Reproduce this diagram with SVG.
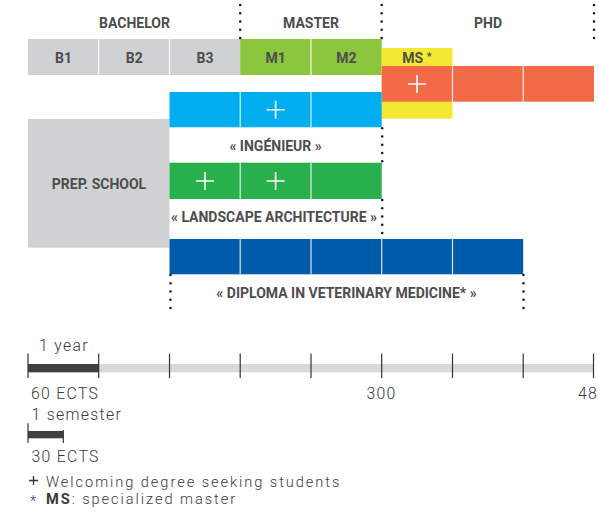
<svg xmlns="http://www.w3.org/2000/svg" width="599" height="516" viewBox="0 0 599 516">
<defs>
<style>
.hd{font-family:Roboto,"Liberation Sans",sans-serif;font-weight:700;font-size:14px;fill:#4d4d4d;text-anchor:middle}
.lb{font-family:Roboto,"Liberation Sans",sans-serif;font-weight:700;font-size:14px;fill:#4d4d4d;text-anchor:middle}
.lt{font-family:Roboto,"Liberation Sans",sans-serif;font-weight:300;font-size:15.8px;fill:#3a3a3a;letter-spacing:1.3px}
.lg{font-family:Roboto,"Liberation Sans",sans-serif;font-weight:300;font-size:14.6px;fill:#3a3a3a;letter-spacing:1.95px}
.sep{stroke:#ffffff;stroke-width:1.2;stroke-opacity:0.85}
.plus{stroke:#ffffff;stroke-width:1.6;fill:none}
.dot{stroke:#1a1a1a;stroke-width:2.6;stroke-linecap:round;stroke-dasharray:0 8.25;fill:none}
.tick{stroke:#333;stroke-width:1.2}
</style>
</defs>
<rect width="599" height="516" fill="#ffffff"/>

<g id="headers">
<text class="hd" x="134.5" y="27.5">BACHELOR</text>
<text class="hd" x="311" y="27.5">MASTER</text>
<text class="hd" x="488" y="27.5">PHD</text>
</g>

<g id="bachelor">
<rect x="28" y="39" width="212.2" height="36" fill="#d0d1d3"/>
<line class="sep" x1="98.7" y1="39" x2="98.7" y2="75"/>
<line class="sep" x1="169.5" y1="39" x2="169.5" y2="75"/>
<text class="lb" x="63.5" y="63.3">B1</text>
<text class="lb" x="134.2" y="63.3">B2</text>
<text class="lb" x="205" y="63.3">B3</text>
</g>

<g id="master">
<rect x="240.2" y="39" width="141.5" height="36" fill="#8cc63f"/>
<line class="sep" x1="311" y1="39" x2="311" y2="75"/>
<text class="lb" x="275.6" y="63.3">M1</text>
<text class="lb" x="346.3" y="63.3">M2</text>
</g>

<g id="ms">
<rect x="381.7" y="48" width="70.8" height="70.7" fill="#f3e933"/>
<text class="lb" x="417" y="63.3">MS <tspan font-size="11" dy="-3">*</tspan></text>
</g>

<g id="phd">
<rect x="381.7" y="66" width="212.3" height="35.7" fill="#f26a48"/>
<line class="sep" x1="452.5" y1="66" x2="452.5" y2="101.7"/>
<line class="sep" x1="523.2" y1="66" x2="523.2" y2="101.7"/>
<path class="plus" d="M408 84H426M417 75V93"/>
</g>

<g id="prep-school">
<rect x="28" y="119" width="141.5" height="128.7" fill="#d0d1d3"/>
<text class="lb" x="99" y="189.2">PREP. SCHOOL</text>
</g>

<g id="ingenieur">
<rect x="169.5" y="92" width="212.2" height="35.3" fill="#00aeef"/>
<line class="sep" x1="240.2" y1="92" x2="240.2" y2="127.3"/>
<line class="sep" x1="311" y1="92" x2="311" y2="127.3"/>
<path class="plus" d="M266.6 109.7H284.6M275.6 100.7V118.7"/>
<text class="lb" x="275.6" y="151">« INGÉNIEUR »</text>
</g>

<g id="landscape">
<rect x="169.5" y="162.7" width="212.2" height="36.3" fill="#27b04b"/>
<line class="sep" x1="240.2" y1="162.7" x2="240.2" y2="199"/>
<line class="sep" x1="311" y1="162.7" x2="311" y2="199"/>
<path class="plus" d="M196 181H214M205 172V190"/>
<path class="plus" d="M266.6 181H284.6M275.6 172V190"/>
<text class="lb" x="274" y="221.8">« LANDSCAPE ARCHITECTURE »</text>
</g>

<g id="veterinary">
<rect x="169.5" y="239" width="353.7" height="35.3" fill="#005baa"/>
<line class="sep" x1="240.2" y1="239" x2="240.2" y2="274.3"/>
<line class="sep" x1="311" y1="239" x2="311" y2="274.3"/>
<line class="sep" x1="381.7" y1="239" x2="381.7" y2="274.3"/>
<line class="sep" x1="452.5" y1="239" x2="452.5" y2="274.3"/>
<text class="lb" x="346.5" y="298.3">« DIPLOMA IN VETERINARY MEDICINE* »</text>
</g>

<g id="connectors">
<line class="dot" x1="240.2" y1="5" x2="240.2" y2="38.5"/>
<line class="dot" x1="381.7" y1="5" x2="381.7" y2="38.5"/>
<line class="dot" x1="594" y1="5" x2="594" y2="38.5"/>
<line class="dot" x1="382.2" y1="128.3" x2="382.2" y2="162"/>
<line class="dot" x1="382.2" y1="200" x2="382.2" y2="233.5"/>
<line class="dot" x1="170.5" y1="275" x2="170.5" y2="308.5"/>
<line class="dot" x1="523.5" y1="275" x2="523.5" y2="308.5"/>
</g>

<g id="timeline">
<rect x="28" y="364" width="566" height="8.3" fill="#d9d9d9"/>
<rect x="28" y="364" width="70.7" height="8.3" fill="#404040"/>
<line class="tick" x1="28" y1="353.6" x2="28" y2="378"/>
<line class="tick" x1="98.7" y1="353.6" x2="98.7" y2="378"/>
<line class="tick" x1="169.5" y1="353.6" x2="169.5" y2="378"/>
<line class="tick" x1="240.2" y1="353.6" x2="240.2" y2="378"/>
<line class="tick" x1="311" y1="353.6" x2="311" y2="378"/>
<line class="tick" x1="381.7" y1="353.6" x2="381.7" y2="378"/>
<line class="tick" x1="452.5" y1="353.6" x2="452.5" y2="378"/>
<line class="tick" x1="523.2" y1="353.6" x2="523.2" y2="378"/>
<line class="tick" x1="593.5" y1="353.6" x2="593.5" y2="378"/>
<text class="lt" x="64" y="350.5" text-anchor="middle">1 year</text>
<text class="lt" x="31" y="398.5">60 ECTS</text>
<text class="lt" x="381.5" y="398.5" text-anchor="middle">300</text>
<text class="lt" x="578" y="398.5">48</text>
</g>

<g id="legend">
<text class="lt" x="31.5" y="420">1 semester</text>
<rect x="28" y="431" width="35.3" height="7.3" fill="#404040"/>
<line class="tick" x1="28" y1="423.3" x2="28" y2="443"/>
<line class="tick" x1="63.3" y1="430" x2="63.3" y2="443"/>
<text class="lt" x="31.5" y="462">30 ECTS</text>
<path d="M29 480.5H38M33.5 476V485" stroke="#333" stroke-width="1.3" fill="none"/>
<text class="lg" x="46" y="486.8">Welcoming degree seeking students</text>
<text class="lg" x="30" y="506" font-size="11">*</text>
<text class="lg" x="46" y="504"><tspan font-weight="700">MS</tspan>: specialized master</text>
</g>
</svg>
